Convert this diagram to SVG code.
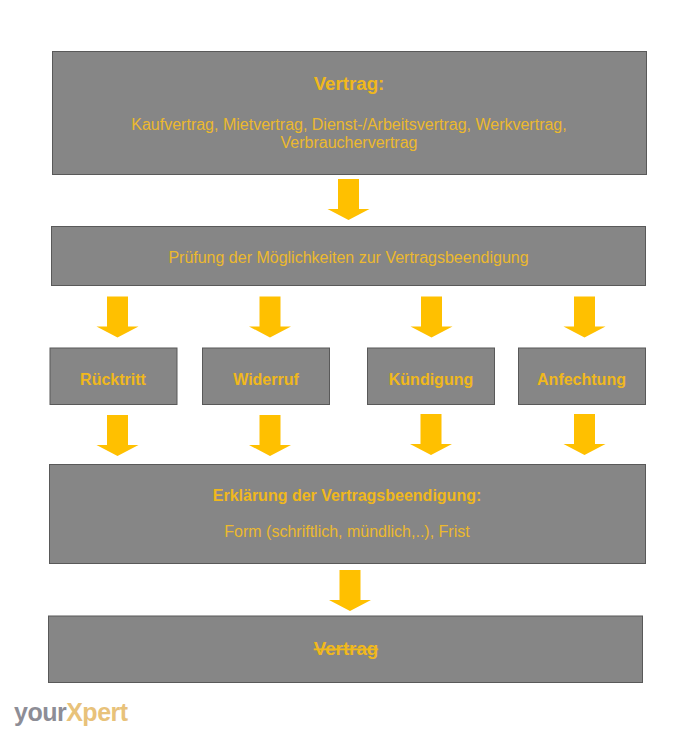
<svg xmlns="http://www.w3.org/2000/svg" width="700" height="747" viewBox="0 0 700 747">
<defs>
<path id="arrow" d="M-10.500 0H10.500V30H21L0 41L-21 30H-10.500Z" fill="#ffc000"/>
</defs>
<style>
.box{fill:#868686;stroke:#595959;stroke-width:1}
text{font-family:"Liberation Sans",Arial,sans-serif;fill:#f0b81c;text-anchor:middle}
.r{font-size:16px;fill:#ecb92e}
.b{font-size:16px;font-weight:bold}
.t{font-size:18.700px;font-weight:bold}
.logo{font-size:25px;font-weight:bold;text-anchor:start;letter-spacing:-0.500px}
</style>
<rect width="700" height="747" fill="#fff"/>
<g id="connectors">
<use href="#arrow" x="348.500" y="179"/>
<use href="#arrow" x="117.500" y="296.500"/>
<use href="#arrow" x="270" y="296.500"/>
<use href="#arrow" x="431.500" y="296.500"/>
<use href="#arrow" x="584.500" y="296.500"/>
<use href="#arrow" x="117.500" y="415"/>
<use href="#arrow" x="270" y="415"/>
<use href="#arrow" x="431" y="414"/>
<use href="#arrow" x="584.500" y="414"/>
<use href="#arrow" x="350" y="570"/>
</g>
<g id="vertrag">
<rect class="box" x="52.500" y="51.500" width="594" height="123"/>
<text class="t" x="349" y="90">Vertrag:</text>
<text class="r" x="349" y="130">Kaufvertrag, Mietvertrag, Dienst-/Arbeitsvertrag, Werkvertrag,</text>
<text class="r" x="349" y="148">Verbrauchervertrag</text>
</g>
<g id="pruefung">
<rect class="box" x="51.500" y="226.500" width="594" height="59"/>
<text class="r" x="348.500" y="263">Prüfung der Möglichkeiten zur Vertragsbeendigung</text>
</g>
<g id="ruecktritt">
<rect class="box" x="50" y="348" width="127" height="56.500"/>
<text class="b" x="113" y="385">Rücktritt</text>
</g>
<g id="widerruf">
<rect class="box" x="202.500" y="348" width="127" height="56.500"/>
<text class="b" x="266" y="385">Widerruf</text>
</g>
<g id="kuendigung">
<rect class="box" x="367.500" y="348" width="127" height="56.500"/>
<text class="b" x="431" y="385">Kündigung</text>
</g>
<g id="anfechtung">
<rect class="box" x="518.500" y="348" width="127" height="56.500"/>
<text class="b" x="581.500" y="385">Anfechtung</text>
</g>
<g id="erklaerung">
<rect class="box" x="49.500" y="464.500" width="596" height="99"/>
<text class="b" x="347" y="501">Erklärung der Vertragsbeendigung:</text>
<text class="r" x="347" y="537">Form (schriftlich, mündlich,..), Frist</text>
</g>
<g id="vertrag-ende">
<rect class="box" x="48.500" y="616" width="594" height="66.500"/>
<text class="t" x="346" y="655" text-decoration="line-through">Vertrag</text>
</g>
<g id="logo">
<text class="logo" x="14" y="721"><tspan fill="#8d8d96">your</tspan><tspan fill="#e8c27a">Xpert</tspan></text>
</g>
</svg>
